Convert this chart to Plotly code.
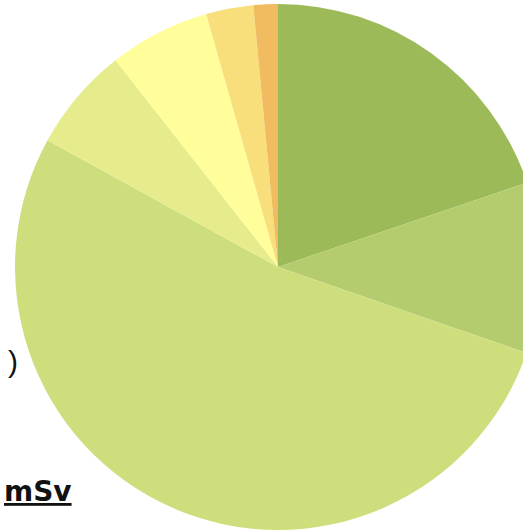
import plotly.graph_objects as go

# Dose breakdown slices, clockwise from 12 o'clock (percent)
categories = ["区分1", "区分2", "区分3", "区分4", "区分5", "区分6", "区分7"]
shares = [19.8, 10.5, 52.7, 6.4, 6.2, 2.9, 1.5]
slice_colors = ["#9CBB58", "#B4CC6D", "#CFDE7D", "#E6EC8C", "#FFFE9A", "#F8DF7B", "#F1BC5F"]

W, H = 560, 532

fig = go.Figure(
    go.Pie(
        labels=categories,
        values=shares,
        sort=False,
        direction="clockwise",
        rotation=0,
        textinfo="none",
        hoverinfo="label+percent",
        marker=dict(colors=slice_colors, line=dict(width=0)),
        showlegend=False,
    )
)

L, R, T, B = 15, W - 541, 4, H - 530
pw, ph = W - L - R, H - T - B


def px_x(x):
    return (x - L) / pw


def px_y(y):
    return 1 - (y - T) / ph


fig.add_annotation(
    x=px_x(6), y=px_y(361), xref="paper", yref="paper",
    text=")", showarrow=False, xanchor="left", yanchor="middle",
    font=dict(family="Liberation Sans, Arial", size=30, color="#111111"),
)
fig.add_annotation(
    x=px_x(74), y=px_y(491), xref="paper", yref="paper",
    text="<b><u>mSv</u></b>", showarrow=False, xanchor="right", yanchor="middle",
    font=dict(family="DejaVu Sans", size=28, color="#111111"),
)

fig.update_layout(
    width=W,
    height=H,
    margin=dict(l=L, r=R, t=T, b=B, pad=0),
    paper_bgcolor="white",
    plot_bgcolor="white",
)

fig.write_html(
    "out.html",
    post_script="document.body.style.margin='0';document.body.style.overflow='hidden';",
)
